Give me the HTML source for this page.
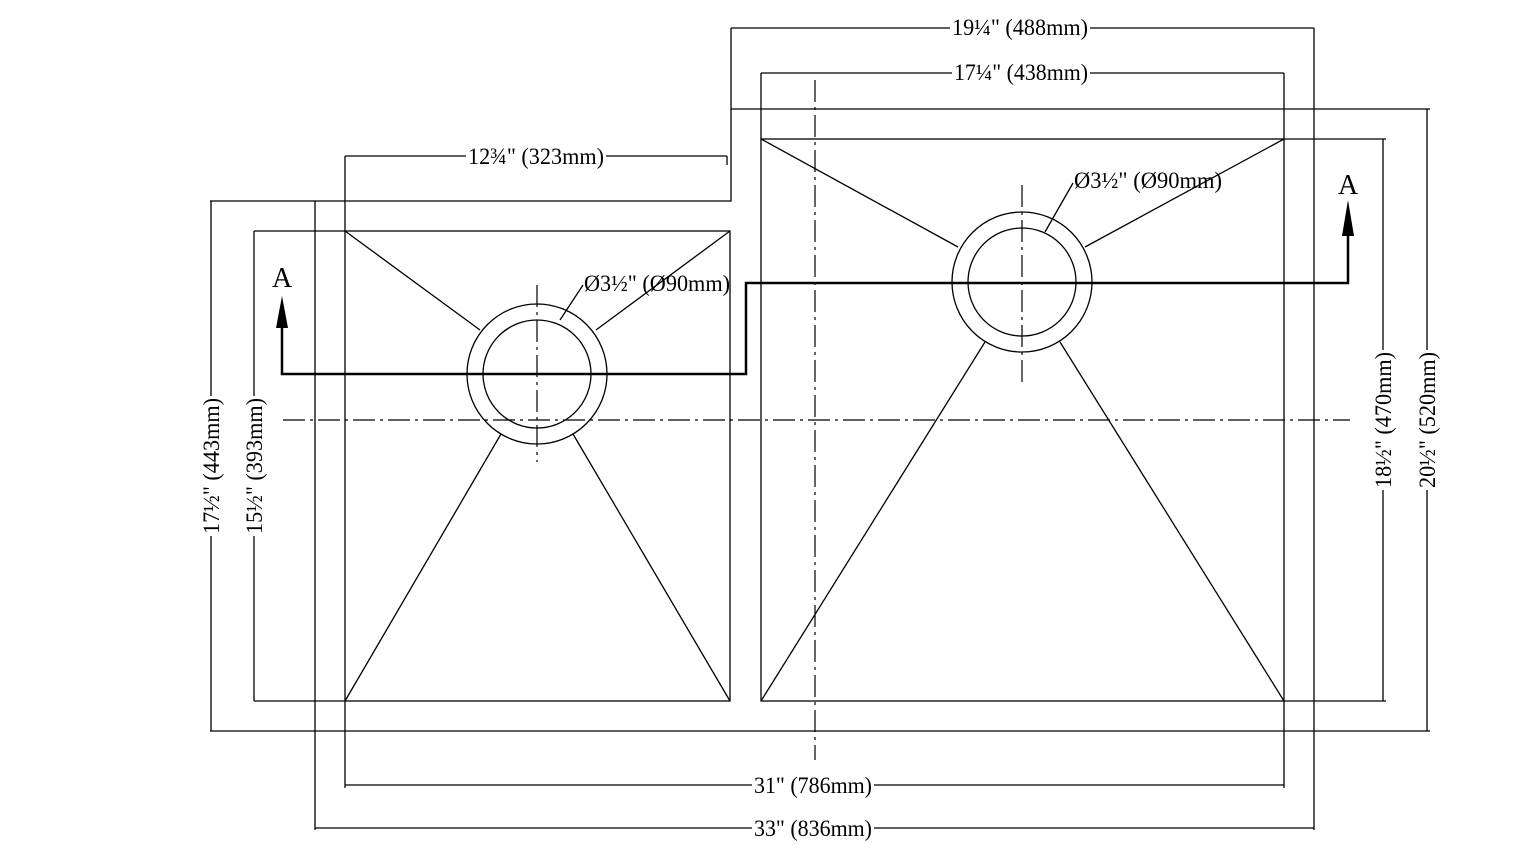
<!DOCTYPE html>
<html><head><meta charset="utf-8"><style>
html,body{margin:0;padding:0;background:#fff;}
svg{display:block;}
text{font-family:"Liberation Serif",serif;font-size:23px;fill:#000;}
</style></head><body>
<svg width="1514" height="850" viewBox="0 0 1514 850" xmlns="http://www.w3.org/2000/svg">
<g stroke="#000" stroke-width="1.3" fill="none">
<polyline points="315,830 315,201 731,201 731,28"/>
<line x1="210" y1="201" x2="315" y2="201"/>
<line x1="731" y1="109" x2="1430" y2="109"/>
<line x1="1314" y1="28" x2="1314" y2="830"/>
<line x1="210" y1="731" x2="1430" y2="731"/>
<rect x="345" y="231" width="385" height="470"/>
<rect x="761" y="139" width="523" height="562"/>
<line x1="345" y1="156" x2="345" y2="231"/>
<line x1="727" y1="156" x2="727" y2="165"/>
<line x1="761" y1="73" x2="761" y2="139"/>
<line x1="1284" y1="73" x2="1284" y2="139"/>
<line x1="345" y1="701" x2="345" y2="788"/>
<line x1="1284" y1="701" x2="1284" y2="788"/>
<line x1="254" y1="231" x2="345" y2="231"/>
<line x1="254" y1="701" x2="345" y2="701"/>
<line x1="1284" y1="139" x2="1386" y2="139"/>
<line x1="1284" y1="701" x2="1386" y2="701"/>
<line x1="345" y1="231" x2="480" y2="330"/>
<line x1="730" y1="231" x2="596" y2="330"/>
<line x1="345" y1="701" x2="501" y2="434"/>
<line x1="730" y1="701" x2="573" y2="434"/>
<line x1="761" y1="139" x2="958" y2="247"/>
<line x1="1284" y1="139" x2="1085" y2="247"/>
<line x1="761" y1="701" x2="985" y2="342"/>
<line x1="1284" y1="701" x2="1060" y2="342"/>
<circle cx="537" cy="374" r="70"/>
<circle cx="537" cy="374" r="54"/>
<circle cx="1022" cy="282" r="70"/>
<circle cx="1022" cy="282" r="54"/>
<line x1="731" y1="28" x2="1314" y2="28"/>
<line x1="761" y1="73" x2="1284" y2="73"/>
<line x1="345" y1="156" x2="727" y2="156"/>
<line x1="345" y1="785" x2="1284" y2="785"/>
<line x1="315" y1="828" x2="1314" y2="828"/>
<line x1="211" y1="201" x2="211" y2="731"/>
<line x1="254" y1="231" x2="254" y2="701"/>
<line x1="1383" y1="139" x2="1383" y2="701"/>
<line x1="1427" y1="109" x2="1427" y2="731"/>
<line x1="583" y1="285" x2="560" y2="320"/>
<line x1="1073" y1="183" x2="1045" y2="232"/>
</g>
<g stroke="#000" stroke-width="1.2" stroke-dasharray="22,5,3,5" fill="none">
<line x1="283" y1="420" x2="1350" y2="420"/>
<line x1="815" y1="80" x2="815" y2="760"/>
<line x1="537" y1="285" x2="537" y2="462"/>
<line x1="1022" y1="185" x2="1022" y2="385"/>
</g>
<polyline points="282,320 282,374 746,374 746,283 1348,283 1348,230" stroke="#000" stroke-width="2.5" fill="none"/>
<polygon points="282,296 276,328 288,328" fill="#000"/>
<polygon points="1348,200 1342,236 1354,236" fill="#000"/>
<text x="272" y="287" style="font-size:28px">A</text>
<text x="1338" y="194" style="font-size:28px">A</text>
<g>
<rect x="950" y="14" width="140" height="26" fill="#fff"/>
<text x="952" y="35" textLength="136" lengthAdjust="spacingAndGlyphs">19¼" (488mm)</text>
<rect x="952" y="59" width="138" height="26" fill="#fff"/>
<text x="954" y="80" textLength="134" lengthAdjust="spacingAndGlyphs">17¼" (438mm)</text>
<rect x="466" y="142" width="140" height="26" fill="#fff"/>
<text x="468" y="164" textLength="136" lengthAdjust="spacingAndGlyphs">12¾" (323mm)</text>
<rect x="752" y="771" width="122" height="26" fill="#fff"/>
<text x="754" y="793" textLength="118" lengthAdjust="spacingAndGlyphs">31" (786mm)</text>
<rect x="752" y="814" width="122" height="26" fill="#fff"/>
<text x="754" y="836" textLength="118" lengthAdjust="spacingAndGlyphs">33" (836mm)</text>
<text x="584" y="291" textLength="146" lengthAdjust="spacingAndGlyphs">Ø3½" (Ø90mm)</text>
<text x="1074" y="188" textLength="148" lengthAdjust="spacingAndGlyphs">Ø3½" (Ø90mm)</text>
<g transform="translate(219,466) rotate(-90)"><rect x="-70" y="-20" width="140" height="26" fill="#fff"/><text x="-68" y="0" textLength="136" lengthAdjust="spacingAndGlyphs">17½" (443mm)</text></g>
<g transform="translate(262,466) rotate(-90)"><rect x="-70" y="-20" width="140" height="26" fill="#fff"/><text x="-68" y="0" textLength="136" lengthAdjust="spacingAndGlyphs">15½" (393mm)</text></g>
<g transform="translate(1391,420) rotate(-90)"><rect x="-70" y="-20" width="140" height="26" fill="#fff"/><text x="-68" y="0" textLength="136" lengthAdjust="spacingAndGlyphs">18½" (470mm)</text></g>
<g transform="translate(1435,420) rotate(-90)"><rect x="-70" y="-20" width="140" height="26" fill="#fff"/><text x="-68" y="0" textLength="136" lengthAdjust="spacingAndGlyphs">20½" (520mm)</text></g>
</g>
</svg>
</body></html>
